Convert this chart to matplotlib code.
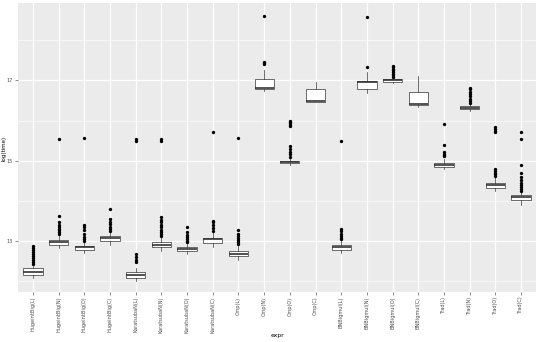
import matplotlib
matplotlib.use("Agg")
import matplotlib.pyplot as plt

# categories (x axis)
labels = ["HugeintBig(L)", "HugeintBig(N)", "HugeintBig(O)", "HugeintBig(C)",
          "KaratsubaN(L)", "KaratsubaN(N)", "KaratsubaN(O)", "KaratsubaN(C)",
          "Cmp(L)", "Cmp(N)", "Cmp(O)", "Cmp(C)",
          "BNBigmul(L)", "BNBigmul(N)", "BNBigmul(O)", "BNBigmul(C)",
          "Trad(L)", "Trad(N)", "Trad(O)", "Trad(C)"]

# box statistics, log(time)
med = [12.21, 12.96, 12.84, 13.06, 12.15, 12.90, 12.79, 13.04, 12.68, 16.81,
       14.96, 16.49, 12.85, 16.96, 17.00, 16.42, 14.89, 16.32, 14.40, 14.08]
q1 = [12.14, 12.90, 12.78, 12.99, 12.08, 12.84, 12.74, 12.94, 12.61, 16.78,
      14.93, 16.47, 12.78, 16.78, 16.97, 16.39, 14.84, 16.29, 14.31, 14.01]
q3 = [12.31, 13.02, 12.88, 13.12, 12.21, 12.97, 12.84, 13.08, 12.74, 17.03,
      14.99, 16.78, 12.90, 16.99, 17.03, 16.70, 14.95, 16.35, 14.45, 14.14]
whislo = [12.08, 12.83, 12.70, 12.90, 12.00, 12.75, 12.68, 12.85, 12.53, 16.74,
          14.88, 16.45, 12.70, 16.68, 16.94, 16.34, 14.78, 16.24, 14.24, 13.89]
whishi = [12.38, 13.15, 12.97, 13.22, 12.33, 13.10, 12.93, 13.22, 12.88, 17.26,
          15.08, 16.97, 13.00, 17.22, 17.05, 17.11, 15.03, 16.40, 14.58, 14.21]
fliers = [
    [12.42, 12.47, 12.52, 12.57, 12.62, 12.67, 12.72, 12.77, 12.82, 12.86],
    [13.18, 13.22, 13.26, 13.30, 13.35, 13.40, 13.46, 13.63, 15.53],
    [13.00, 13.05, 13.10, 13.18, 13.26, 13.35, 13.40, 15.57],
    [13.25, 13.30, 13.35, 13.42, 13.48, 13.55, 13.78],
    [12.46, 12.53, 12.60, 12.67, 15.50, 15.55],
    [13.13, 13.18, 13.23, 13.28, 13.34, 13.40, 13.47, 13.53, 13.59, 15.50, 15.55],
    [12.96, 13.00, 13.05, 13.10, 13.15, 13.22, 13.34],
    [13.25, 13.32, 13.40, 13.46, 13.50, 15.71],
    [12.91, 12.96, 13.01, 13.06, 13.12, 13.18, 13.28, 15.57],
    [17.40, 17.44, 17.47, 18.62],
    [15.10, 15.16, 15.22, 15.28, 15.36, 15.87, 15.90, 15.93, 15.97, 16.00],
    [],
    [13.04, 13.08, 13.13, 13.18, 13.24, 13.30, 15.50],
    [17.34, 18.58],
    [17.09, 17.13, 17.17, 17.21, 17.25, 17.29, 17.33, 17.36],
    [],
    [15.11, 15.14, 15.17, 15.21, 15.38, 15.92],
    [16.43, 16.48, 16.54, 16.60, 16.66, 16.72, 16.78, 16.80],
    [14.62, 14.66, 14.70, 14.74, 14.78, 15.71, 15.75, 15.79, 15.83],
    [14.25, 14.30, 14.35, 14.40, 14.45, 14.52, 14.60, 14.68, 14.89, 15.53, 15.72],
]

stats = []
for i in range(len(labels)):
    stats.append(dict(med=med[i], q1=q1[i], q3=q3[i], whislo=whislo[i],
                      whishi=whishi[i], fliers=fliers[i], label=labels[i]))

fig = plt.figure(figsize=(5.4, 3.42), dpi=100)
ax = fig.add_axes([0.0326, 0.146, 0.9607, 0.845])
ax.set_facecolor("#EBEBEB")

pos = list(range(1, len(labels) + 1))
ax.bxp(stats, positions=pos, widths=0.75, showcaps=False, patch_artist=True,
       boxprops=dict(facecolor="white", edgecolor="#333333", linewidth=0.5),
       whiskerprops=dict(color="#333333", linewidth=0.5),
       medianprops=dict(color="#333333", linewidth=1.2),
       flierprops=dict(marker="o", markersize=1.4, markerfacecolor="black",
                       markeredgecolor="black", linestyle="none"),
       zorder=3)

ax.set_xlim(0.4, len(labels) + 0.6)
ax.set_ylim(11.72, 18.93)
ax.set_yticks([13, 15, 17])
ax.set_yticklabels(["13", "15", "17"])
ax.set_yticks([12, 14, 16, 18], minor=True)
ax.set_xticks(pos)
ax.set_xticklabels(labels, rotation=90)
ax.grid(True, which="major", color="white", linewidth=0.9, zorder=0)
ax.grid(True, which="minor", axis="y", color="white", linewidth=0.45, zorder=0)
ax.set_axisbelow(True)
for s in ax.spines.values():
    s.set_visible(False)
ax.tick_params(axis="both", which="major", labelsize=3.6, labelcolor="#4D4D4D",
               color="#333333", length=2, width=0.4, pad=1.2)
ax.tick_params(axis="y", which="minor", length=0)

# axis titles placed in figure coordinates so they stay inside the canvas
fig.text(0.513, 0.012, "expr", fontsize=4.4, ha="center", va="bottom")
fig.text(0.008, 0.565, "log(time)", fontsize=4.0, rotation=90,
         ha="center", va="center")

fig.savefig("out.png", dpi=100)
